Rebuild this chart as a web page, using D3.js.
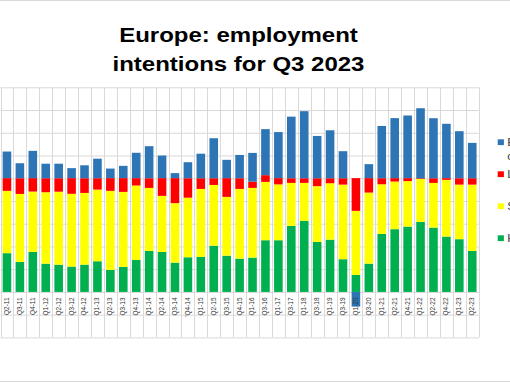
<!DOCTYPE html>
<html><head><meta charset="utf-8">
<script src="https://cdn.jsdelivr.net/npm/d3@7"></script>
<style>body{margin:0;background:#fff;} svg{display:block;font-family:"Liberation Sans",Arial,sans-serif;}</style>
</head><body><svg id="c" width="510" height="382"></svg>
<script>
const categories = ["Q2-11","Q3-11","Q4-11","Q1-12","Q2-12","Q3-12","Q4-12","Q1-13","Q2-13","Q3-13","Q4-13","Q1-14","Q2-14","Q3-14","'Q4-14","Q1-15","Q2-15","Q3-15","Q4-15","Q1-16","Q3-16","Q1-17","Q3-17","Q1-18","Q3-18","Q1-19","Q3-19","Q1-20","Q3-20","Q1-21","Q2-21","Q4-21","Q1-22","Q2-22","Q4-22","Q1-23","Q2-23"];
const higher = [34.1,26.4,35.2,24.9,24.0,22.3,24.0,27.0,19.4,22.0,28.2,36.1,35.2,25.8,30.5,30.8,40.7,31.9,29.3,30.2,45.5,45.5,58.1,62.5,44.0,46.0,28.8,15.0,24.9,51.0,55.2,57.5,61.6,56.6,48.7,46.4,36.1];
const same = [54.8,59.8,53.1,62.8,64.2,64.0,63.1,63.0,69.5,66.0,65.4,55.4,49.3,52.3,52.4,59.8,53.4,51.7,61.3,61.3,51.3,49.1,37.8,33.4,49.0,49.6,65.6,56.3,62.5,43.7,41.9,40.0,37.8,39.3,49.9,48.0,58.3];
const lower = [11.2,13.8,11.8,12.3,11.8,13.8,12.9,10.0,11.2,12.1,6.5,8.5,15.6,22.0,17.1,9.4,5.9,16.5,9.4,5.5,5.9,5.5,4.1,4.1,7.0,4.4,5.6,28.8,12.7,5.3,3.0,2.6,0.6,4.1,1.5,5.6,5.6];
const outlook = [23.4,13.2,24.0,12.8,12.8,8.8,11.4,17.2,8.4,10.8,22.3,28.2,19.9,4.4,14.1,21.6,35.2,16.1,20.5,25.3,40.5,40.5,54.2,59.0,37.2,42.2,23.8,-12.9,12.3,46.0,52.8,55.1,61.6,52.8,47.8,41.4,31.1];
const yTicks = [-140,-120,-100,-80,-60,-40,-20,0,20,40,60,80];
const seriesKeys = ["higher","same","lower","outlook"];
const seriesColors = {outlook:"#2E75B6", lower:"#FF0000", same:"#FFFF00", higher:"#00B050"};
const legendItems = [
  {key:"outlook", lines:["Employment","outlook"]},
  {key:"lower", lines:["Lower"]},
  {key:"same", lines:["Same"]},
  {key:"higher", lines:["Higher"]}
];
const titleLines = ["Europe: employment","intentions for Q3 2023"];
const baseline = -100;

const svg = d3.select("#c");
svg.append("rect").attr("width",510).attr("height",382).attr("fill","#fff");
svg.append("line").attr("x1",0).attr("x2",510).attr("y1",0.5).attr("y2",0.5).attr("stroke","#d9d9d9");
svg.append("line").attr("x1",0).attr("x2",510).attr("y1",381.5).attr("y2",381.5).attr("stroke","#d9d9d9");

const x = d3.scaleBand().domain(categories).range([0.5,478.7]).paddingInner(0.335).paddingOuter(0.1675);
const y = d3.scaleLinear().domain([-140,80]).range([337.4,87.3]);

const gy = svg.append("g").attr("transform","translate(0.5,0)")
  .call(d3.axisRight(y).tickValues(yTicks).tickSize(478.2).tickFormat(""));
gy.select(".domain").remove();
gy.selectAll("line").attr("stroke","#d9d9d9");
const x0 = x.range()[0], step = x.step();
svg.append("g").selectAll("line").data(d3.range(categories.length+1)).join("line")
  .attr("x1",i=>Math.round(x0+i*step)+0.5).attr("x2",i=>Math.round(x0+i*step)+0.5)
  .attr("y1",y(80)).attr("y2",y(-140)).attr("stroke","#d9d9d9");

const rows = categories.map((c,i)=>({cat:c,higher:higher[i],same:same[i],lower:lower[i],outlook:outlook[i]}));
const layers = d3.stack().keys(seriesKeys).offset(d3.stackOffsetDiverging)(rows);
svg.append("g").selectAll("g").data(layers).join("g")
  .attr("fill",d=>seriesColors[d.key])
  .selectAll("rect").data(d=>d).join("rect")
  .attr("x",d=>x(d.data.cat))
  .attr("width",x.bandwidth())
  .attr("y",d=>y(baseline+Math.max(d[0],d[1])))
  .attr("height",d=>Math.abs(y(baseline+d[0])-y(baseline+d[1])));

const gx = svg.append("g").attr("transform",`translate(0,${y(baseline)})`)
  .call(d3.axisBottom(x).tickSize(0));
gx.attr("font-family","Liberation Sans, Arial, sans-serif").attr("font-size",6.5);
gx.select(".domain").remove();
gx.selectAll("text")
  .attr("transform","rotate(-90)")
  .attr("x",-5.5).attr("y",0).attr("dy","0.3em")
  .style("text-anchor","end")
  .attr("fill","#333");

const t = svg.append("g").attr("transform","translate(238.5,0) scale(1.2,1)");
t.selectAll("text").data(titleLines).join("text")
  .attr("x",0).attr("y",(d,i)=>41.7+i*29.3)
  .attr("text-anchor","middle")
  .style("font-weight","bold").style("font-size","20px").attr("fill","#000")
  .text(d=>d);

const lg = svg.append("g");
legendItems.forEach((it,i)=>{
  const cy = 142.2 + i*32;
  lg.append("rect").attr("x",497.7).attr("y",cy-2.9).attr("width",6.2).attr("height",5.8).attr("fill",seriesColors[it.key]);
  const tx = lg.append("g").attr("transform",`translate(507.3,0) scale(1.15,1)`);
  it.lines.forEach((ln,j)=>{
    tx.append("text").attr("x",0).attr("y",cy+3.8+j*14).style("font-size","10.5px").attr("fill","#404040").text(ln);
  });
});
</script></body></html>
